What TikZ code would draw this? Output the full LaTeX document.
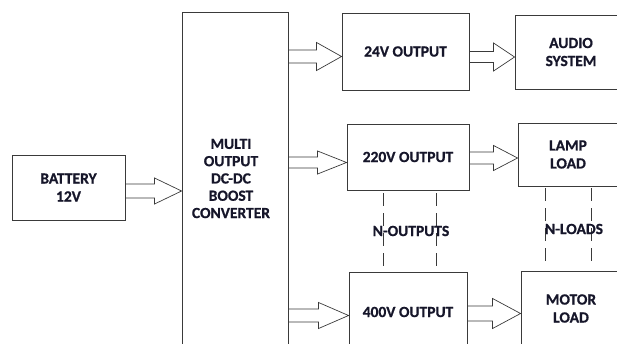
\documentclass[tikz,border=0pt]{standalone}
\usepackage{fontspec}
\setmainfont{Carlito}[BoldFeatures={FakeBold=0.8}]
\usetikzlibrary{calc}
\definecolor{edge}{HTML}{3A3A3A}
\definecolor{ink}{HTML}{16162A}
\newcommand\blockarrow[6]{%
  \pgfmathsetmacro\baYa{#3-#4}\pgfmathsetmacro\baYb{#3+#4}%
  \pgfmathsetmacro\baYc{#3-#5}\pgfmathsetmacro\baYd{#3+#5}%
  \coordinate (ba1) at (0,\baYa); \coordinate (ba2) at (0,\baYb);
  \coordinate (ba3) at (0,\baYc); \coordinate (ba4) at (0,\baYd);
  \coordinate (ba0) at (0,#3);
  \draw[barr] (#1.east |- ba1) -- ($(#2.west |- ba1)+(-#6,0)$) -- ($(#2.west |- ba3)+(-#6,0)$)
    -- (#2.west |- ba0) -- ($(#2.west |- ba4)+(-#6,0)$) -- ($(#2.west |- ba2)+(-#6,0)$) -- (#1.east |- ba2);}
\begin{document}
\begin{tikzpicture}[x=1pt,y=-1pt,
  box/.style={draw=edge, line width=0.9pt, rectangle, inner sep=0pt, align=center,
    font=\fontsize{15.5}{18}\selectfont\bfseries, text=ink},
  lbl/.style={inner sep=0pt, align=center, font=\fontsize{15.5}{17.3}\selectfont\bfseries, text=ink},
  barr/.style={draw=edge, line width=0.7pt, line join=miter},
  dsh/.style={draw=edge, line width=0.9pt, dash pattern=on 13pt off 7pt}]
\useasboundingbox (0,0) rectangle (617,343);
\clip (0,0) rectangle (617,343);
% boxes
\node[box, minimum width=113pt, minimum height=65pt] (bat) at (68.5,187.5) {BATTERY\\12V};
\node[box, minimum width=106pt, minimum height=333pt] (conv) at (235,178.5) {};
\node[lbl] (convtxt) at (231,178.5) {MULTI\\OUTPUT\\DC-DC\\BOOST\\CONVERTER};
\node[box, minimum width=127pt, minimum height=77pt] (o24) at (405.5,51.5) {24V OUTPUT};
\node[box, minimum width=112pt, minimum height=74pt] (audio) at (571,52) {AUDIO\\SYSTEM};
\node[box, minimum width=122pt, minimum height=66pt] (o220) at (408,157) {220V OUTPUT};
\node[box, minimum width=100pt, minimum height=63pt] (lamp) at (568,154.5) {LAMP\\LOAD};
\node[box, minimum width=118pt, minimum height=80pt] (o400) at (408,312) {400V OUTPUT};
\node[box, minimum width=100pt, minimum height=75pt] (motor) at (571,308.5) {MOTOR\\LOAD};
% block arrows
\blockarrow{bat}{conv}{191}{7}{13}{27}
\blockarrow{conv}{o24}{56.5}{6.5}{14}{25}
\blockarrow{o24}{audio}{57}{5.5}{14}{21}
\blockarrow{conv}{o220}{162.5}{5.5}{11.5}{29}
\blockarrow{o220}{lamp}{158}{6}{12.5}{24}
\blockarrow{conv}{o400}{315.5}{6.5}{13}{30}
\blockarrow{o400}{motor}{313.5}{7.5}{15}{28}
% dashed continuation lines
\coordinate (xa) at (383,0);
\coordinate (xb) at (436,0);
\coordinate (xc) at (545,0);
\coordinate (xd) at (591,0);
\draw[dsh, shorten <=3pt, shorten >=6pt] (o220.south -| xa) -- (o400.north -| xa);
\draw[dsh, shorten <=3pt, shorten >=6pt] (o220.south -| xb) -- (o400.north -| xb);
\draw[dsh, shorten <=2pt, shorten >=8pt] (lamp.south -| xc) -- (motor.north -| xc);
\draw[dsh, shorten <=2pt, shorten >=8pt] (lamp.south -| xd) -- (motor.north -| xd);
\node[lbl] (nout) at (411,231) {N-OUTPUTS};
\node[lbl] (nload) at (574,229) {N-LOADS};
\end{tikzpicture}
\end{document}
